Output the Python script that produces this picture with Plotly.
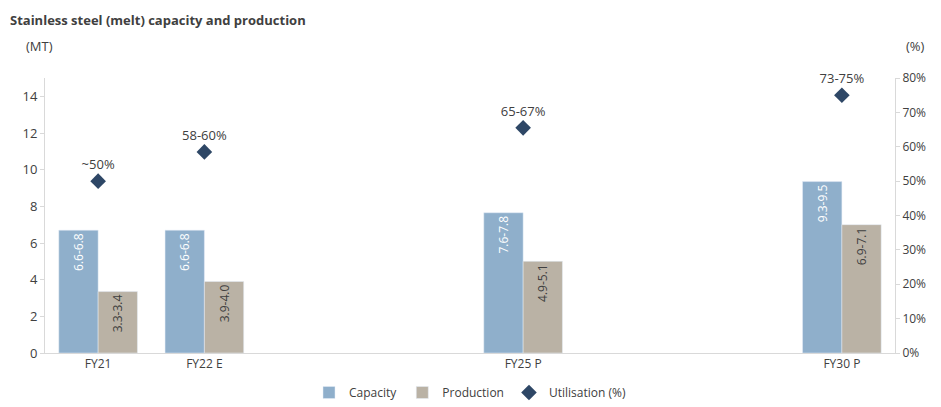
import plotly.graph_objects as go

# slots along the x axis (blank ones keep the spacing of the source chart)
slots = ["FY21", "FY22 E", " ", "  ", "FY25 P", "   ", "    ", "FY30 P"]
years = ["FY21", "FY22 E", "FY25 P", "FY30 P"]

capacity = [6.7, 6.7, 7.65, 9.35]
capacity_labels = ["6.6-6.8", "6.6-6.8", "7.6-7.8", "9.3-9.5"]
production = [3.35, 3.9, 5.0, 7.0]
production_labels = ["3.3-3.4", "3.9-4.0", "4.9-5.1", "6.9-7.1"]
utilisation = [0.50, 0.585, 0.655, 0.75]
utilisation_labels = ["~50%", "58-60%", "65-67%", "73-75%"]

FONT = "Open Sans"

fig = go.Figure()

fig.add_trace(go.Bar(
    x=years, y=capacity, name="Capacity",
    marker_color="#8FAFCB",
    text=capacity_labels, textposition="inside", insidetextanchor="end",
    textangle=-90, textfont=dict(color="white", size=12, family=FONT),
))
fig.add_trace(go.Bar(
    x=years, y=production, name="Production",
    marker_color="#BAB2A5",
    text=production_labels, textposition="inside", insidetextanchor="end",
    textangle=-90, textfont=dict(color="#404040", size=12, family=FONT),
))
fig.add_trace(go.Scatter(
    x=years, y=utilisation, name="Utilisation (%)", yaxis="y2",
    mode="markers+text", cliponaxis=False,
    marker=dict(symbol="diamond", size=12, color="#2E4766"),
    text=utilisation_labels, textposition="top center",
    textfont=dict(color="#404040", size=13, family=FONT),
))

axis_line = dict(showline=True, linecolor="#D9D9D9", linewidth=1, automargin=False)

fig.update_layout(
    width=941, height=407,
    margin=dict(l=45, r=46, t=78, b=54),
    paper_bgcolor="white", plot_bgcolor="white",
    font=dict(family=FONT, size=12, color="#404040"),
    barmode="group", bargap=0.26, bargroupgap=0,
    showlegend=True,
    legend=dict(orientation="h", x=0.5, xanchor="center",
                yref="container", y=-0.025, yanchor="bottom",
                font=dict(size=12, family=FONT)),
    xaxis=dict(type="category", categoryorder="array", categoryarray=slots,
               range=[-0.5, 7.5], showgrid=False, ticks="", **axis_line,
               tickfont=dict(size=12)),
    yaxis=dict(range=[0, 15], dtick=2, showgrid=False, ticks="outside",
               ticklen=4, tickcolor="#D9D9D9", zeroline=False, **axis_line,
               tickfont=dict(size=13)),
    yaxis2=dict(range=[0, 0.8], dtick=0.1, tickformat=".0%", overlaying="y",
                side="right", showgrid=False, ticks="outside", ticklen=4,
                tickcolor="#D9D9D9", zeroline=False, **axis_line,
                tickfont=dict(size=12)),
    annotations=[
        dict(text="<b>Stainless steel (melt) capacity and production</b>",
             xref="paper", yref="paper", x=-0.043, y=1.21, xanchor="left",
             yanchor="middle", showarrow=False,
             font=dict(size=13, color="#404040", family=FONT)),
        dict(text="(MT)", xref="paper", yref="paper", x=-0.025, y=1.115,
             xanchor="left", yanchor="middle", showarrow=False,
             font=dict(size=13, color="#404040")),
        dict(text="(%)", xref="paper", yref="paper", x=1.01, y=1.115,
             xanchor="left", yanchor="middle", showarrow=False,
             font=dict(size=13, color="#404040")),
    ],
)

# drop the default page margin so the figure sits at the window's corner
fig.write_html("out.html", config={"displayModeBar": False},
               post_script="document.body.style.margin='0';")
